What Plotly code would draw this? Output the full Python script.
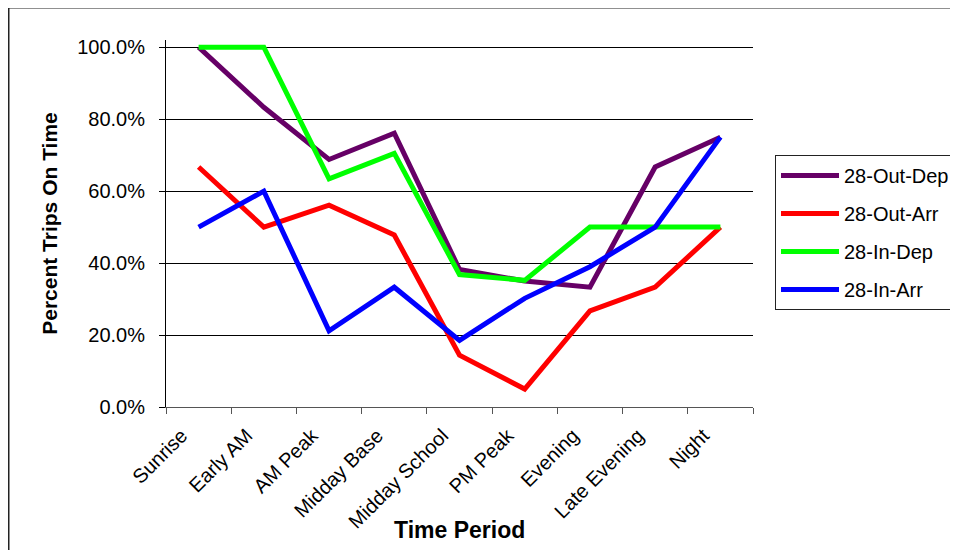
import plotly.graph_objects as go

periods = ["Sunrise", "Early AM", "AM Peak", "Midday Base", "Midday School",
           "PM Peak", "Evening", "Late Evening", "Night"]

out_dep = [1.000, 0.833, 0.688, 0.761, 0.382, 0.350, 0.333, 0.667, 0.750]
out_arr = [0.667, 0.500, 0.561, 0.478, 0.144, 0.050, 0.267, 0.333, 0.500]
in_dep = [1.000, 1.000, 0.634, 0.705, 0.368, 0.352, 0.500, 0.500, 0.500]
in_arr = [0.500, 0.600, 0.212, 0.333, 0.185, 0.302, 0.390, 0.500, 0.750]

series_names = ["28-Out-Dep", "28-Out-Arr", "28-In-Dep", "28-In-Arr"]
series_values = [out_dep, out_arr, in_dep, in_arr]
series_colors = ["#660066", "#FF0000", "#00FF00", "#0000FF"]

y_ticks = [0, 0.2, 0.4, 0.6, 0.8, 1.0]

FONT = "Liberation Sans, Arial, sans-serif"

# The page body adds an 8px margin, so figure coordinates are screen - 8.
W, H = 950, 542
L, R, T, B = 158, 205, 32, 143
PW, PH = W - L - R, H - T - B

fig = go.Figure()
for name, vals, col in zip(series_names, series_values, series_colors):
    fig.add_trace(go.Scatter(
        x=periods, y=vals, name=name, mode="lines",
        line=dict(color=col, width=5), legendgroup=name,
    ))

fig.update_layout(
    width=W, height=H,
    margin=dict(l=L, r=R, t=T, b=B, autoexpand=False),
    paper_bgcolor="white", plot_bgcolor="white",
    font=dict(family=FONT, size=20, color="black"),
    showlegend=True,
    legend=dict(
        x=(767 - L) / PW, y=(H - B - 147) / PH, xanchor="left", yanchor="top",
        bordercolor="#222222", borderwidth=1,
        font=dict(family=FONT, size=20, color="black"),
        tracegroupgap=9, traceorder="grouped",
        itemwidth=58,
        bgcolor="white",
    ),
    xaxis=dict(
        type="category", tickangle=-45, tickson="boundaries",
        ticks="outside", ticklen=6, tickcolor="#555555",
        showline=True, linecolor="#555555", linewidth=1,
        showgrid=False, zeroline=False,
        tickfont=dict(family=FONT, size=20),
        ticklabelstandoff=8, ticklabelshift=-17,
        range=[-0.5, 8.5],
    ),
    yaxis=dict(
        range=[0, 1.02], tickvals=y_ticks, tickformat=".1%",
        ticks="outside", ticklen=6, tickcolor="black",
        showline=True, linecolor="black", linewidth=1,
        showgrid=True, gridcolor="black", gridwidth=1,
        zeroline=False,
        tickfont=dict(family=FONT, size=20),
        ticklabelstandoff=10,
        title=dict(text="<b>Percent Trips On Time</b>",
                   font=dict(family=FONT, size=21), standoff=13),
    ),
    shapes=[dict(type="rect", xref="paper", yref="paper",
                 x0=(0.5 - L) / PW, x1=1.5, y0=-0.6, y1=(H - B + 0.5) / PH,
                 line=dict(color="#222222", width=2), layer="below")],
    annotations=[dict(text="<b>Time Period</b>", xref="paper", yref="paper",
                      x=(451 - L) / PW, y=(H - B - 522) / PH,
                      xanchor="center", yanchor="middle", showarrow=False,
                      font=dict(family=FONT, size=23, color="black"))],
)

fig.write_html("out.html")
